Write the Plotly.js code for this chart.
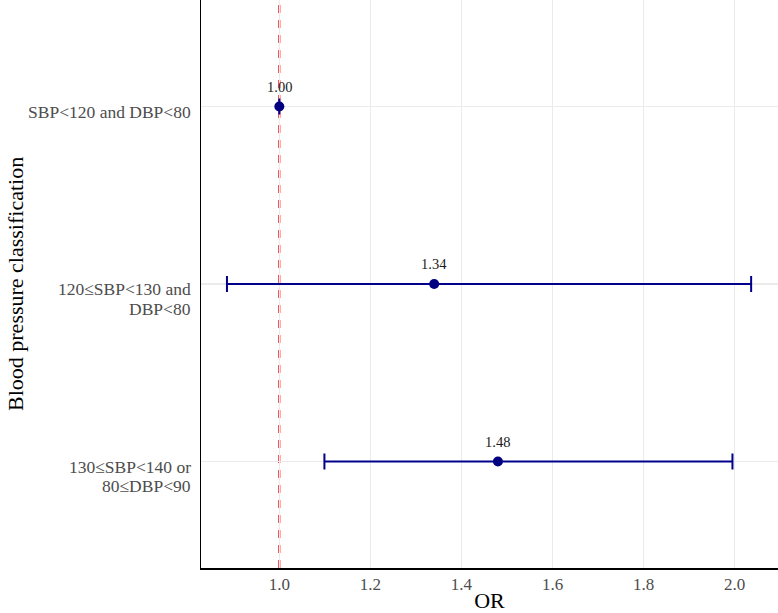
<!DOCTYPE html>
<html>
<head>
<meta charset="utf-8">
<script src="https://cdn.plot.ly/plotly-3.0.1.min.js"></script>
<style>html,body{margin:0;padding:0;background:#fff;}#chart{width:778px;height:613px;}</style>
</head>
<body>
<div id="chart"></div>
<script>
// Data
const categories = ["SBP&lt;120 and DBP&lt;80", "120≤SBP&lt;130 and<br>DBP&lt;80", "130≤SBP&lt;140 or<br>80≤DBP&lt;90"];
const orValues = [1.00, 1.34, 1.48];
const ciLower = [1.00, 0.885, 1.099];
const ciUpper = [1.00, 2.036, 1.995];
const orLabels = ["1.00", "1.34", "1.48"];
const xTicks = [1.0, 1.2, 1.4, 1.6, 1.8, 2.0];
const xTickLabels = ["1.0", "1.2", "1.4", "1.6", "1.8", "2.0"];

const yPos = categories.map((c, i) => i);
const serif = "Liberation Serif, Times New Roman, serif";

const trace = {
  type: "scatter",
  mode: "markers",
  x: orValues,
  y: yPos,
  marker: {color: "#000080", size: 10},
  error_x: {
    type: "data",
    symmetric: false,
    array: orValues.map((v, i) => ciUpper[i] - v),
    arrayminus: orValues.map((v, i) => v - ciLower[i]),
    color: "#00008B",
    thickness: 2,
    width: 8
  },
  hoverinfo: "skip",
  showlegend: false,
  cliponaxis: false
};

const annotations = [];
// value labels above points
orValues.forEach((v, i) => {
  annotations.push({
    x: v, y: yPos[i], xref: "x", yref: "y",
    text: orLabels[i], showarrow: false,
    yshift: 20, yanchor: "middle", xanchor: "center",
    font: {family: serif, size: 14.5, color: "#1a1a1a"}
  });
});
// category labels (y-axis tick labels)
categories.forEach((c, i) => {
  c.split("<br>").forEach((line, j) => {
    annotations.push({
      x: 0, xref: "paper", y: yPos[i], yref: "y",
      text: line, showarrow: false,
      xanchor: "right", yanchor: "middle", align: "right",
      xshift: -8, yshift: -(5 + 19.5 * j),
      font: {family: serif, size: 17.5, color: "#4d4d4d"}
    });
  });
});
// y-axis title
annotations.push({
  x: 0, xref: "paper", y: 0.5, yref: "paper",
  text: "Blood pressure classification", showarrow: false,
  textangle: -90, xanchor: "center", yanchor: "middle",
  xshift: -186,
  font: {family: serif, size: 22, color: "#000"}
});

const layout = {
  width: 778,
  height: 613,
  margin: {l: 201, r: 0, t: 0, b: 45},
  paper_bgcolor: "#fff",
  plot_bgcolor: "#fff",
  font: {family: serif},
  xaxis: {
    range: [0.828, 2.095],
    tickvals: xTicks,
    ticktext: xTickLabels,
    tickfont: {family: serif, size: 17, color: "#4d4d4d"},
    showgrid: true,
    gridcolor: "#ebebeb",
    gridwidth: 1.2,
    zeroline: false,
    showline: true,
    linecolor: "#000",
    linewidth: 1.5,
    ticks: "",
    ticklabelstandoff: 0,
    title: {text: "OR", font: {family: serif, size: 22, color: "#000"}, standoff: 2}
  },
  yaxis: {
    range: [2.6, -0.6],
    tickvals: yPos,
    showticklabels: false,
    showgrid: true,
    gridcolor: "#ebebeb",
    gridwidth: 1.2,
    zeroline: false,
    showline: true,
    linecolor: "#000",
    linewidth: 1.5,
    ticks: ""
  },
  annotations: annotations,
  shapes: [{
    type: "line",
    xref: "x", yref: "paper",
    x0: 1, x1: 1, y0: 0, y1: 1,
    line: {color: "#ff0000", width: 2, dash: "8px,7px"},
    layer: "below"
  }]
};

Plotly.newPlot("chart", [trace], layout, {displayModeBar: false, staticPlot: true});
</script>
</body>
</html>
